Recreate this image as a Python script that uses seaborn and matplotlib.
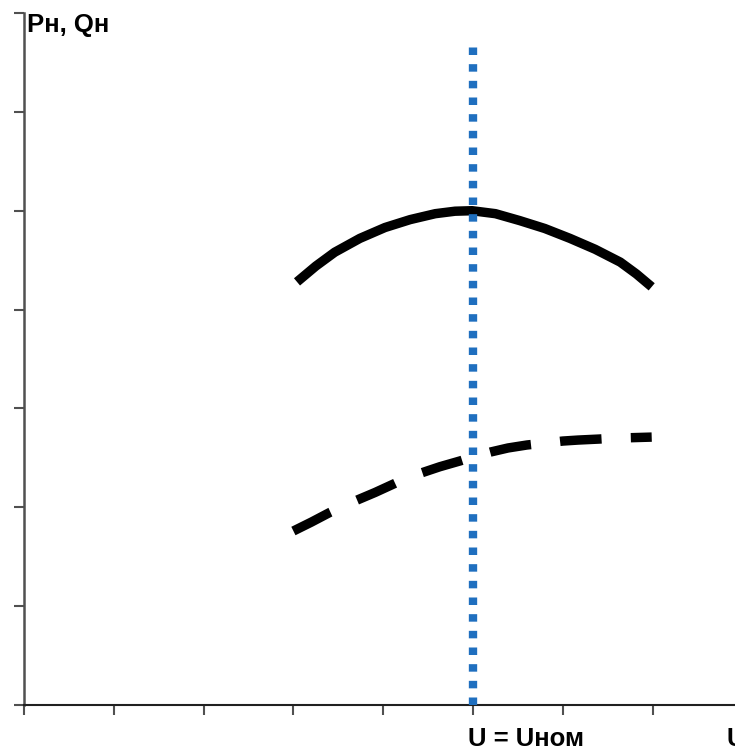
import matplotlib
matplotlib.use("Agg")
import matplotlib.pyplot as plt
import seaborn as sns
import pandas as pd

# data
p_u = [3.04, 3.25, 3.46, 3.74, 4.02, 4.30, 4.58, 4.80, 4.99, 5.25, 5.52,
       5.80, 6.08, 6.36, 6.64, 6.82, 6.99]
p_val = [4.28, 4.44, 4.58, 4.72, 4.83, 4.91, 4.97, 4.995, 5.00, 4.97, 4.90,
         4.82, 4.72, 4.61, 4.48, 4.36, 4.23]
q_u = [3.00, 3.20, 3.41, 3.65, 3.91, 4.15, 4.40, 4.63, 4.86, 5.00, 5.20,
       5.39, 5.60, 5.80, 6.00, 6.17, 6.40, 6.60, 6.80, 6.99]
q_val = [1.76, 1.85, 1.95, 2.05, 2.15, 2.25, 2.34, 2.41, 2.47, 2.51, 2.56,
         2.60, 2.63, 2.65, 2.67, 2.68, 2.69, 2.70, 2.705, 2.71]
u_nom = [5.0, 5.0]
u_nom_y = [0.0, 6.72]
x_ticks = [0, 1, 2, 3, 4, 5, 6, 7]
y_ticks = [0, 1, 2, 3, 4, 5, 6, 7]

sns.set_style("white")
plt.rcParams['font.family'] = ['Liberation Sans', 'DejaVu Sans']

fig = plt.figure(figsize=(7.35, 7.5), dpi=100)
ax = fig.add_axes([24/735, 45/750, 1 - 24/735, (705-13)/750])

dfp = pd.DataFrame({"u": p_u, "v": p_val})
dfq = pd.DataFrame({"u": q_u, "v": q_val})
dfn = pd.DataFrame({"u": u_nom, "v": u_nom_y})

sns.lineplot(data=dfp, x="u", y="v", ax=ax, color="black", lw=6.8,
             solid_capstyle="butt", solid_joinstyle="round", sort=False,
             estimator=None)
sns.lineplot(data=dfq, x="u", y="v", ax=ax, color="black", lw=6.8,
             sort=False, estimator=None, linestyle=(0, (4.4, 3.1)),
             dash_capstyle="butt", dash_joinstyle="round")
sns.lineplot(data=dfn, x="u", y="v", ax=ax, color="#1f6fbf", lw=6.0,
             sort=False, estimator=None, linestyle=(0, (0.9, 1.1)),
             dash_capstyle="butt", zorder=3)

ax.set_xlim(0, (735-24)/89.8)
ax.set_ylim(0, 7)
ax.set_xticks(x_ticks)
ax.set_yticks(y_ticks)
ax.set_xticklabels([])
ax.set_yticklabels([])
ax.set_xlabel("")
ax.set_ylabel("")

for s in ["top", "right"]:
    ax.spines[s].set_visible(False)
ax.spines["left"].set_color("#505050")
ax.spines["left"].set_linewidth(1.8)
ax.spines["bottom"].set_color("#202020")
ax.spines["bottom"].set_linewidth(1.5)
ax.tick_params(axis="both", direction="out", length=7, width=1.5,
               colors="#505050", bottom=True, left=True)

fig.text(27/735, 1 - 32/750, "Pн, Qн", fontsize=18.5, fontweight="bold",
         ha="left", va="baseline", color="black")
fig.text(468/735, 1 - 746/750, "U = Uном", fontsize=18.5, fontweight="bold",
         ha="left", va="baseline", color="black")
fig.text(727/735, 1 - 746/750, "U", fontsize=18.5, fontweight="bold",
         ha="left", va="baseline", color="black")

fig.savefig("out.png", dpi=100)
